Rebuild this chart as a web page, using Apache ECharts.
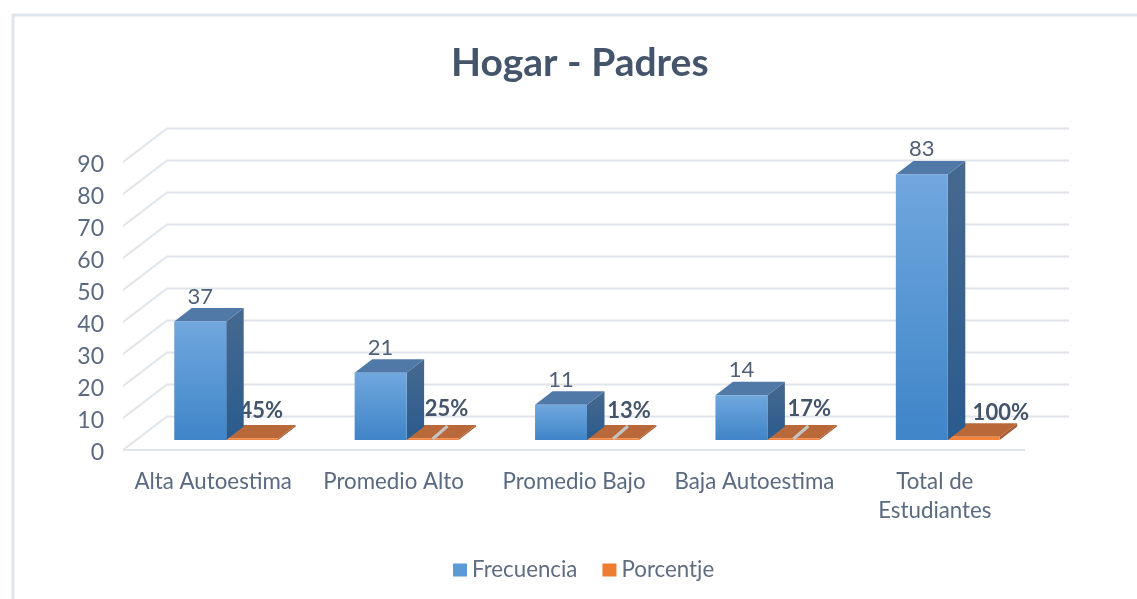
<!DOCTYPE html>
<html><head><meta charset="utf-8">
<style>html,body{margin:0;padding:0;background:#fff}#c{width:1137px;height:599px}</style>
<script src="https://cdn.jsdelivr.net/npm/echarts@6/dist/echarts.min.js"></script>
</head><body><div id="c"></div>
<script>
const categories = ['Alta Autoestima','Promedio Alto','Promedio Bajo','Baja Autoestima','Total de\nEstudiantes'];
const frecuencia = [37,21,11,14,83];
const porcentaje = [0.45,0.25,0.13,0.17,1];
const yTicks = [0,10,20,30,40,50,60,70,80,90];
const leaderLine = [false,true,true,true,false];
const pctLabelShift = [[9,-29],[14,-31],[16,-29],[16,-31],[27,-27]];

const FONT = 'Lato, "Open Sans", sans-serif';
const WALL = [44,-33.5], FLOOR = [13,-10], DEPTH = [17.5,-13.5], BAR = 0.288;

const grad = (a,b)=>new echarts.graphic.LinearGradient(0,0,0,1,[{offset:0,color:a},{offset:1,color:b}]);

function box(api, idx, val, side, c){
  const p = api.coord([idx,val]), b = api.coord([idx,0]);
  const w = api.size([1,0])[0]*BAR;
  const x0 = p[0]+FLOOR[0]+(side?0:-w), x1 = x0+w;
  const yT = Math.min(p[1],b[1]-1.5)+FLOOR[1], yB = b[1]+FLOOR[1];
  const dx = DEPTH[0], dy = DEPTH[1];
  return {x0,x1,yT,yB,dx,dy,els:[
    {type:'polygon',shape:{points:[[x1,yT],[x1+dx,yT+dy],[x1+dx,yB+dy],[x1,yB]]},style:{fill:c.side}},
    {type:'polygon',shape:{points:[[x0,yT],[x0+dx,yT+dy],[x1+dx,yT+dy],[x1,yT]]},style:{fill:c.top}},
    {type:'rect',shape:{x:x0,y:yT,width:w,height:yB-yT},style:{fill:c.front}}
  ]};
}
const labelColor = '#4f5f76';

const option = {
  animation:false,
  backgroundColor:'#fff',
  title:{text:'Hogar - Padres',left:451,top:44,padding:0,
    textStyle:{fontFamily:FONT,fontSize:39,fontWeight:'bold',color:'#44546a'}},
  legend:{data:['Frecuencia','Porcentje'],top:554,left:448,itemWidth:14,itemHeight:13,itemGap:25,icon:'rect',
    textStyle:{fontFamily:FONT,fontSize:22.3,color:'#5f6d82'}},
  grid:{left:123,right:112,top:162,bottom:149},
  xAxis:{type:'category',data:categories,axisLine:{show:false},axisTick:{show:false},splitLine:{show:false},
    axisLabel:{fontFamily:FONT,fontSize:22.3,color:'#5a6a80',margin:17,lineHeight:29,interval:0}},
  yAxis:{type:'value',min:0,max:90,interval:10,axisLine:{show:false},axisTick:{show:false},splitLine:{show:false},
    axisLabel:{fontFamily:FONT,fontSize:23,color:'#5a6a80',margin:19,verticalAlign:'top',lineHeight:5}},
  graphic:[{type:'polyline',silent:true,shape:{points:[[1137,15],[13,15],[13,599]]},style:{stroke:'#e1e5ec',lineWidth:3,fill:null}}],
  series:[
    {type:'custom',name:'walls',silent:true,z:1,encode:{x:0,y:1},data:yTicks.map(v=>[0,v]),
      renderItem(params,api){
        const v=api.value(1), p=api.coord([0,v]), q=api.coord([categories.length-1,v]), h=api.size([1,0])[0]/2;
        const xa=p[0]-h, xb=q[0]+h, y=p[1];
        const style={stroke:'#e0e4eb',lineWidth:2,fill:null};
        const kids=[{type:'polyline',shape:{points:[[xa,y],[xa+WALL[0],y+WALL[1]],[xb+WALL[0],y+WALL[1]]]},style}];
        if(v===0) kids.push({type:'line',shape:{x1:xa,y1:y,x2:xb,y2:y},style});
        return {type:'group',children:kids};
      }},
    {type:'custom',name:'Frecuencia',z:3,encode:{x:0,y:1},itemStyle:{color:'#5b9bd5'},
      data:frecuencia.map((v,i)=>[i,v]),
      renderItem(params,api){
        const i=api.value(0), v=api.value(1);
        const b=box(api,i,v,0,{front:grad('#70a7de','#3f85c8'),side:grad('#47698f','#2a5b8d'),top:'#5079a8'});
        b.els.push({type:'text',style:{text:String(v),x:(b.x0+b.x1)/2,y:b.yT-25,align:'center',verticalAlign:'middle',
          font:'22px '+FONT,fill:labelColor}});
        return {type:'group',children:b.els};
      }},
    {type:'custom',name:'Porcentje',z:2,encode:{x:0,y:1},itemStyle:{color:'#ed7d31'},
      data:porcentaje.map((v,i)=>[i,v]),
      renderItem(params,api){
        const i=api.value(0), v=api.value(1);
        const b=box(api,i,v,1,{front:'#f5843a',side:'#a85c32',top:'#b9683a'});
        const cx=(b.x0+b.x1)/2;
        if(leaderLine[i]) b.els.push({type:'line',shape:{x1:cx,y1:b.yB-1,x2:cx+15,y2:b.yT+b.dy+1},style:{stroke:'#c4c4c4',lineWidth:3}});
        b.els.push({type:'text',z2:5,style:{text:Math.round(v*100)+'%',x:cx+pctLabelShift[i][0],y:b.yB+pctLabelShift[i][1],align:'center',verticalAlign:'middle',
          font:'bold 22px '+FONT,fill:'#44546a'}});
        return {type:'group',children:b.els};
      }}
  ]
};
echarts.init(document.getElementById('c'),null,{renderer:'canvas'}).setOption(option);
</script></body></html>
